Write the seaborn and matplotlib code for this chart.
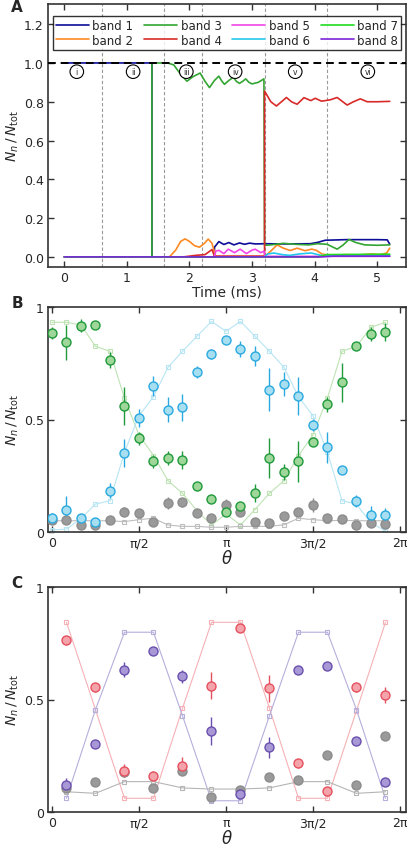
import numpy as np
import pandas as pd
import matplotlib
matplotlib.use("Agg")
import matplotlib.pyplot as plt
import seaborn as sns

# ---------- panel A : band populations vs time ----------
band1_t = [0, 1.4, 1.4, 2.4, 2.4, 2.47, 2.55, 2.63, 2.71, 2.8, 2.88, 2.96, 3.05, 3.2, 3.5, 3.93, 4.05, 4.17, 4.5, 5.0, 5.16, 5.2]
band1_v = [1, 1, 0, 0, 0.05, 0.079, 0.064, 0.074, 0.062, 0.072, 0.065, 0.071, 0.067, 0.068, 0.067, 0.068, 0.075, 0.086, 0.089, 0.089, 0.088, 0.066]

band2_t = [0, 1.68, 1.78, 1.86, 1.93, 2.0, 2.08, 2.16, 2.24, 2.3, 2.36, 2.42, 3.2, 3.3, 3.4, 3.5, 3.61, 3.72, 3.85, 3.95, 4.02, 4.12, 4.25, 4.5, 4.7, 4.9, 5.05, 5.15, 5.2]
band2_v = [0, 0, 0.035, 0.08, 0.093, 0.08, 0.058, 0.05, 0.07, 0.092, 0.07, 0.002, 0.002, 0.03, 0.062, 0.045, 0.033, 0.045, 0.032, 0.04, 0.035, 0.015, 0.008, 0.012, 0.01, 0.015, 0.012, 0.02, 0.045]

band3_t = [0, 1.4, 1.4, 1.65, 1.75, 1.85, 1.96, 2.06, 2.17, 2.25, 2.32, 2.4, 2.47, 2.52, 2.56, 2.63, 2.7, 2.75, 2.8, 2.85, 2.9, 2.95, 3.0, 3.1, 3.19,
           3.2, 3.3, 3.5, 3.7, 3.9, 4.05, 4.2, 4.36, 4.45, 4.55, 4.65, 4.8, 5.0, 5.2]
band3_v = [0, 0, 1.0, 1.0, 0.99, 0.945, 0.906, 0.93, 0.948, 0.905, 0.873, 0.91, 0.932, 0.905, 0.89, 0.91, 0.926, 0.905, 0.895, 0.905, 0.918, 0.9, 0.892, 0.9, 0.918,
           0.06, 0.062, 0.07, 0.065, 0.062, 0.068, 0.065, 0.04, 0.06, 0.09, 0.075, 0.062, 0.06, 0.062]

band4_t = [0, 1.9, 2.1, 2.25, 2.36, 2.4, 3.2, 3.2, 3.3, 3.39, 3.47, 3.55, 3.63, 3.72, 3.83, 3.94, 4.01, 4.11, 4.25, 4.36, 4.45, 4.52, 4.62, 4.73, 4.84, 5.0, 5.2]
band4_v = [0, 0, 0.008, 0.012, 0.038, 0.004, 0.004, 0.855, 0.8, 0.778, 0.8, 0.822, 0.8, 0.787, 0.821, 0.806, 0.818, 0.803, 0.81, 0.822, 0.8, 0.783, 0.8, 0.815, 0.8, 0.8, 0.802]

band5_t = [0, 2.4, 2.42, 2.47, 2.55, 2.62, 2.72, 2.81, 2.91, 3.0, 3.05, 3.14, 3.19, 3.21, 5.2]
band5_v = [0, 0, 0.03, 0.034, 0.017, 0.04, 0.022, 0.04, 0.017, 0.035, 0.04, 0.022, 0.03, 0.003, 0.003]

band6_t = [0, 3.2, 3.25, 3.35, 3.48, 3.6, 3.75, 3.85, 3.95, 4.1, 4.3, 5.2]
band6_v = [0, 0, 0.015, 0.02, 0.012, 0.008, 0.015, 0.018, 0.02, 0.008, 0.005, 0.005]

band7_t = [0, 4.05, 4.2, 5.2]
band7_v = [0, 0, 0.012, 0.014]

band8_t = [0, 4.1, 4.3, 5.2]
band8_v = [0, 0, 0.004, 0.004]

band_colors = ['#0d0d99', '#ff8a24', '#33a532', '#d92a2a', '#f245e8', '#22c8ec', '#1fdc1f', '#7a24d8']
stage_lines = [0.6, 1.6, 2.2, 3.2, 4.2]
stage_names = ['i', 'ii', 'iii', 'iv', 'v', 'vi']
stage_pos = [0.2, 1.1, 1.95, 2.73, 3.69, 4.85]

# ---------- panel B ----------
kB = list(range(24))
green_B = [0.883, 0.843, 0.917, 0.921, 0.764, 0.559, 0.416, 0.314, 0.329, 0.32, 0.203, 0.147,
           0.09, 0.114, 0.173, 0.329, 0.268, 0.314, 0.401, 0.567, 0.665, 0.825, 0.88, 0.889]
green_B_err = [0.026, 0.078, 0.03, 0.01, 0.037, 0.085, 0.03, 0.03, 0.03, 0.04, 0.01, 0.01,
               0.012, 0.015, 0.04, 0.09, 0.035, 0.09, 0.015, 0.035, 0.087, 0.01, 0.03, 0.04]
cyan_B = [0.062, 0.099, 0.062, 0.046, 0.184, 0.351, 0.507, 0.65, 0.544, 0.554, 0.71, 0.791,
          0.853, 0.813, 0.784, 0.633, 0.658, 0.603, 0.476, 0.376, 0.277, 0.139, 0.077, 0.077]
cyan_B_err = [0.022, 0.063, 0.02, 0.01, 0.033, 0.063, 0.04, 0.044, 0.055, 0.06, 0.026, 0.022,
              0.01, 0.037, 0.044, 0.096, 0.055, 0.085, 0.026, 0.07, 0.015, 0.026, 0.04, 0.03]
grey_B = [0.055, 0.055, 0.031, 0.031, 0.055, 0.09, 0.085, 0.043, 0.129, 0.132, 0.085, 0.063,
          0.12, 0.09, 0.046, 0.04, 0.073, 0.09, 0.12, 0.063, 0.059, 0.033, 0.04, 0.036]
grey_B_err = [0.015, 0.015, 0.01, 0.01, 0.015, 0.02, 0.015, 0.01, 0.025, 0.02, 0.015, 0.01,
              0.025, 0.015, 0.01, 0.01, 0.015, 0.015, 0.03, 0.01, 0.01, 0.01, 0.01, 0.01]
green_B_th = [0.932, 0.932, 0.92, 0.825, 0.803, 0.594, 0.432, 0.34, 0.228, 0.172, 0.095, 0.031,
              0.08, 0.031, 0.1, 0.172, 0.228, 0.339, 0.432, 0.596, 0.803, 0.825, 0.91, 0.932]
cyan_B_th = [0.009, 0.013, 0.06, 0.124, 0.139, 0.354, 0.517, 0.601, 0.732, 0.803, 0.87, 0.936,
             0.892, 0.936, 0.87, 0.803, 0.732, 0.601, 0.517, 0.354, 0.139, 0.124, 0.04, 0.005]
grey_B_th = [0.05, 0.05, 0.05, 0.05, 0.05, 0.046, 0.055, 0.061, 0.031, 0.025, 0.025, 0.021,
             0.021, 0.025, 0.025, 0.025, 0.032, 0.061, 0.055, 0.05, 0.052, 0.05, 0.05, 0.05]

# ---------- panel C ----------
kC = [1, 3, 5, 7, 9, 11, 13, 15, 17, 19, 21, 23]
red_C = [0.764, 0.554, 0.184, 0.161, 0.206, 0.562, 0.816, 0.55, 0.216, 0.092, 0.554, 0.52]
red_C_err = [0.02, 0.02, 0.03, 0.02, 0.04, 0.06, 0.01, 0.06, 0.02, 0.01, 0.02, 0.035]
purple_C = [0.12, 0.302, 0.633, 0.717, 0.603, 0.361, 0.08, 0.287, 0.63, 0.647, 0.314, 0.132]
purple_C_err = [0.03, 0.01, 0.035, 0.01, 0.03, 0.063, 0.01, 0.045, 0.01, 0.01, 0.01, 0.01]
grey_C = [0.105, 0.135, 0.176, 0.108, 0.184, 0.068, 0.099, 0.154, 0.144, 0.253, 0.121, 0.339]
grey_C_err = [0.01, 0.01, 0.015, 0.01, 0.015, 0.01, 0.01, 0.01, 0.01, 0.01, 0.01, 0.015]
red_C_th = [0.843, 0.455, 0.061, 0.061, 0.461, 0.843, 0.843, 0.461, 0.061, 0.061, 0.45, 0.843]
purple_C_th = [0.061, 0.455, 0.799, 0.799, 0.428, 0.05, 0.05, 0.428, 0.799, 0.799, 0.455, 0.061]
grey_C_th = [0.09, 0.083, 0.135, 0.135, 0.107, 0.102, 0.102, 0.107, 0.135, 0.135, 0.083, 0.09]

theta_ticks = [0, np.pi / 2, np.pi, 3 * np.pi / 2, 2 * np.pi]
theta_labels = ['0', 'π/2', 'π', '3π/2', '2π']

sns.set_style("ticks")
plt.rcParams['font.family'] = ['DejaVu Sans']

fig = plt.figure(figsize=(4.15, 8.54), dpi=100)
L, W = 48 / 415, 358 / 415
axA = fig.add_axes([L, 1 - 268 / 854, W, 263 / 854])
axB = fig.add_axes([L, 1 - 533 / 854, W, 225 / 854])
axC = fig.add_axes([L, 1 - 813 / 854, W, 225 / 854])


def style_axes(ax):
    for s in ax.spines.values():
        s.set_color('#333333')
        s.set_linewidth(1.2)
    ax.tick_params(direction='in', length=4, width=1, top=True, right=True,
                   labelsize=9, color='#333333', pad=3)


# panel A
bands_t = [band1_t, band2_t, band3_t, band4_t, band5_t, band6_t, band7_t, band8_t]
bands_v = [band1_v, band2_v, band3_v, band4_v, band5_v, band6_v, band7_v, band8_v]
for i, (t, v) in enumerate(zip(bands_t, bands_v)):
    sns.lineplot(x=t, y=v, ax=axA, color=band_colors[i], lw=1.2, sort=False,
                 estimator=None, label='band %d' % (i + 1))
for xv in stage_lines:
    axA.axvline(xv, color='#999999', lw=0.8, ls=(0, (3, 2)), zorder=0)
axA.axhline(1.0, color='black', lw=1.4, ls=(0, (4, 2.5)), zorder=5)
for name, xp in zip(stage_names, stage_pos):
    axA.text(xp, 0.955, name, fontsize=5.5, ha='center', va='center', zorder=6,
             bbox=dict(boxstyle='circle,pad=0.3', fc='white', ec='black', lw=0.8))
axA.set_xlim(-0.26, 5.46)
axA.set_ylim(-0.052, 1.304)
axA.set_yticks([0, 0.2, 0.4, 0.6, 0.8, 1.0, 1.2])
axA.set_yticklabels(['0.0', '0.2', '0.4', '0.6', '0.8', '1.0', '1.2'])
axA.set_xticks([0, 1, 2, 3, 4, 5])
axA.set_xlabel('Time (ms)', fontsize=10, labelpad=0)
axA.set_ylabel('$N_n\\,/\\,N_{\\rm tot}$', fontsize=10, labelpad=2)
leg = axA.legend(ncol=4, loc='upper center', bbox_to_anchor=(0.5, 0.975), frameon=True,
                 fancybox=False, edgecolor='black', fontsize=8.5, handlelength=2.8,
                 columnspacing=0.9, borderpad=0.25, labelspacing=0.1, handletextpad=0.3)
leg.get_frame().set_linewidth(1.0)
style_axes(axA)


def theory(ax, k, vals, color):
    th = np.array(k) * np.pi / 12
    sns.lineplot(x=th, y=vals, ax=ax, color=color, lw=0.8, marker='s', markersize=3.5,
                 markerfacecolor='none', markeredgecolor=color, markeredgewidth=0.8,
                 sort=False, estimator=None, zorder=1)


def data(ax, k, vals, err, fill, edge):
    th = np.array(k) * np.pi / 12
    ax.errorbar(th, vals, yerr=err, fmt='none', ecolor=edge, elinewidth=1.0, capsize=0, zorder=2)
    sns.scatterplot(x=th, y=vals, ax=ax, s=42, color=fill, edgecolor=edge, linewidth=1.0, zorder=3)


# panel B
theory(axB, kB, green_B_th, '#bfe3b5')
theory(axB, kB, cyan_B_th, '#b8e5f4')
theory(axB, kB, grey_B_th, '#bdbdbd')
data(axB, kB, grey_B, grey_B_err, '#9a9a9a', '#8c8c8c')
data(axB, kB, cyan_B, cyan_B_err, '#a7dff1', '#2aa9e0')
data(axB, kB, green_B, green_B_err, '#9fd69a', '#1f9a3a')

# panel C
theory(axC, kC, red_C_th, '#f6b1b6')
theory(axC, kC, purple_C_th, '#b5afdc')
theory(axC, kC, grey_C_th, '#b5b5b5')
data(axC, kC, grey_C, grey_C_err, '#9a9a9a', '#8c8c8c')
data(axC, kC, red_C, red_C_err, '#f5a3aa', '#e5505e')
data(axC, kC, purple_C, purple_C_err, '#a899d6', '#6a4fae')

for ax in (axB, axC):
    ax.set_xlim(-0.072, 6.392)
    ax.set_ylim(0, 1)
    ax.set_yticks([0, 0.5, 1])
    ax.set_yticklabels(['0', '0.5', '1'])
    ax.set_xticks(theta_ticks)
    ax.set_xticklabels(theta_labels)
    ax.set_xlabel('$\\theta$', fontsize=12, labelpad=0)
    ax.set_ylabel('$N_n\\,/\\,N_{\\rm tot}$', fontsize=10, labelpad=2)
    style_axes(ax)

for lab, yy in zip(['A', 'B', 'C'], [8, 303, 584]):
    fig.text(17 / 415, 1 - yy / 854, lab, fontsize=11, fontweight='bold', ha='center', va='center')

fig.savefig('out.png', dpi=100)
